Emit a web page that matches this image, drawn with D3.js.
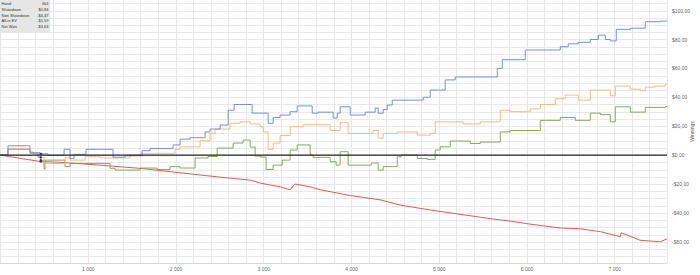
<!DOCTYPE html>
<html>
<head>
<meta charset="utf-8">
<script src="https://cdn.jsdelivr.net/npm/d3@7"></script>
<style>
  body { margin: 0; background: #fff; }
  text { font-family: "Liberation Sans", Arial, sans-serif; }
</style>
</head>
<body>
<div id="chart"></div>
<script>
// [hand, winnings] steps
const showdown = [
  [0, 0], [91, 6.4], [342, 2], [376, 1.5], [456, 0.84], [547, -0.2], [730, 4], [798, -2.3],
  [844, 0.5], [980, 4], [1288, -1.5], [1425, -0.5], [1619, 3], [1710, 4.6], [1972, 7],
  [2052, 11], [2166, 12], [2337, 16], [2394, 18], [2508, 20.8], [2600, 31], [2668, 35],
  [2873, 29], [3055, 22], [3112, 26], [3192, 27.7], [3306, 30], [3386, 34], [3557, 29],
  [3625, 29.7], [3796, 25.6], [3842, 29], [3876, 33.4], [3990, 27.7], [4161, 29.7],
  [4275, 32.5], [4309, 29], [4366, 31.5], [4412, 34.6], [4469, 38], [4822, 40], [4902, 45],
  [5073, 52], [5187, 54], [5666, 60], [5723, 66], [5985, 72.7], [6384, 75], [6475, 77],
  [6589, 78], [6726, 80], [6817, 83], [6897, 80], [6954, 79], [7022, 87], [7182, 87.8],
  [7353, 92.3], [7524, 92.7], [7600, 92.7]
];

const allinEV = [
  [0, 0], [91, 4.6], [342, 1.4], [456, -1.59], [502, -5.8], [741, -2], [798, -3.5],
  [969, -1.2], [1140, -2], [1482, 0], [1596, 1.2], [1995, 4], [2052, 5.7], [2280, 10],
  [2394, 15], [2451, 18], [2622, 22], [2736, 23], [2850, 21.5], [2964, 19.6], [3000, 16],
  [3055, 4], [3112, 8.3], [3192, 13.5], [3306, 19.6], [3454, 21], [3762, 17], [3876, 22.4],
  [3967, 15], [4252, 17], [4309, 11.6], [4366, 15], [4526, 16], [4754, 13.8], [4902, 15],
  [4959, 23], [5278, 21.5], [5472, 23], [5700, 31], [5814, 30], [6042, 32], [6156, 35],
  [6327, 39], [6441, 41.5], [6589, 38], [6726, 45], [6954, 41], [7011, 47.7], [7182, 45.5],
  [7296, 44.5], [7353, 47], [7467, 47.7], [7581, 49], [7600, 49]
];

const netWon = [
  [0, 0], [91, 4], [342, 1.2], [433, -1.5], [464, -3.63], [502, -9.7], [513, -3.5],
  [741, -8], [798, -5.8], [1254, -9.2], [1311, -10.4], [1596, -9], [1790, -10], [1938, -8],
  [2052, -9], [2223, -2], [2371, -1], [2474, 4.8], [2656, 8.3], [2770, 10.4], [2850, 5.5],
  [2907, -0.7], [2964, -1.4], [3032, -10], [3112, -7], [3215, -3.5], [3306, 3.5], [3386, 7],
  [3534, 0], [3568, -1.6], [3762, -4.6], [3830, -7], [3876, 2.3], [3967, -7], [4230, -5.5],
  [4309, -10.4], [4366, -8], [4526, -1.2], [4572, 0], [4754, -2.4], [4868, -3], [4959, 3.5],
  [5016, 5.7], [5130, 9.7], [5358, 8], [5472, 9], [5700, 16], [5814, 17], [6156, 24],
  [6384, 26], [6555, 24], [6726, 29], [6840, 28], [6954, 23], [7011, 33.4], [7182, 29.7],
  [7353, 33], [7581, 33.5], [7600, 33.5]
];

const nonShowdown = [
  [0, 0], [456, -4.47], [684, -5], [1140, -7], [1596, -9.2], [1938, -11.5], [2280, -13.8],
  [2622, -16], [2850, -17.3], [2964, -19.4], [3192, -22], [3306, -24], [3363, -20],
  [3534, -22], [3648, -24], [3990, -28], [4332, -31], [4560, -34.6], [4902, -38],
  [5244, -41], [5586, -44], [5814, -45.7], [6042, -47.8], [6384, -50.5], [6612, -51],
  [6840, -53], [7068, -56.5], [7080, -53.8], [7296, -59], [7524, -60], [7600, -58]
];

const xTicks = [1000, 2000, 3000, 4000, 5000, 6000, 7000];
const yTicks = [100, 80, 60, 40, 20, 0, -20, -40, -60];

const hoverHand = 464;
const infoRows = [
  ["Hand:", "464"],
  ["Showdown", "$0,84"],
  ["Non Showdown", "-$4,47"],
  ["All-in EV", "-$1,59"],
  ["Net Won", "-$3,63"]
];

const width = 700, height = 275;
const plotW = 667, plotH = 263;

const svg = d3.select("#chart").append("svg")
    .attr("width", width)
    .attr("height", height);

const x = d3.scaleLinear().domain([0, 7600]).range([0, plotW]);
const y = d3.scaleLinear().domain([-74.7, 107.3]).range([plotH, 0]);

// grid
const grid = svg.append("g").attr("class", "grid");
grid.selectAll(".vg")
    .data(d3.range(0, 7601, 200))
    .join("line")
    .attr("x1", d => Math.round(x(d)) + 0.5).attr("x2", d => Math.round(x(d)) + 0.5)
    .attr("y1", 0).attr("y2", plotH)
    .style("stroke", "#e8e8e8").style("stroke-width", 1);
grid.selectAll(".hg")
    .data(d3.range(-70, 106, 5))
    .join("line")
    .attr("x1", 0).attr("x2", plotW)
    .attr("y1", d => Math.round(y(d)) + 0.5).attr("y2", d => Math.round(y(d)) + 0.5)
    .style("stroke", "#e8e8e8").style("stroke-width", 1);
grid.append("line")
    .attr("x1", 0).attr("x2", plotW)
    .attr("y1", plotH + 0.5).attr("y2", plotH + 0.5)
    .style("stroke", "#d8d8d8");

// axes
let xAxis = d3.axisBottom(x)
    .tickValues(xTicks)
    .tickSize(0)
    .tickPadding(4)
    .tickFormat(d => d3.format(",")(d).replace(",", " "));
svg.append("g")
    .attr("class", "x-axis")
    .attr("transform", `translate(0, ${plotH})`)
    .call(xAxis)
    .call(g => g.select(".domain").remove())
    .selectAll("text")
    .style("font-size", "5px")
    .style("fill", "#666");

let money = d => (d < 0 ? "-$" : "$") + Math.abs(d).toFixed(2).replace(".", ",");
let yAxis = d3.axisRight(y)
    .tickValues(yTicks)
    .tickSize(0)
    .tickPadding(5)
    .tickFormat(money);
svg.append("g")
    .attr("class", "y-axis")
    .attr("transform", `translate(${plotW}, 0)`)
    .call(yAxis)
    .call(g => g.select(".domain").remove())
    .selectAll("text")
    .style("font-size", "5px")
    .style("fill", "#666");

svg.append("text")
    .attr("transform", `translate(694, ${plotH / 2}) rotate(-90)`)
    .attr("text-anchor", "middle")
    .style("font-size", "5px")
    .style("fill", "#555")
    .text("Winnings");

// series
const series = [
  { data: nonShowdown, color: "#da4a42", curve: d3.curveLinear },
  { data: netWon, color: "#78a24e", curve: d3.curveStepAfter },
  { data: allinEV, color: "#f4b27c", curve: d3.curveStepAfter },
  { data: showdown, color: "#6486d6", curve: d3.curveStepAfter }
];

series.forEach(function(s) {
    let lineGenerator = d3.line()
        .x(d => x(d[0]))
        .y(d => y(d[1]))
        .curve(s.curve);
    svg.append("path")
        .attr("d", lineGenerator(s.data))
        .style("fill", "none")
        .style("stroke", s.color)
        .style("stroke-width", "0.9px");
});

// zero line
svg.append("line")
    .attr("x1", 0).attr("x2", plotW)
    .attr("y1", y(0)).attr("y2", y(0))
    .style("stroke", "#222")
    .style("stroke-width", "1.2px");

// hover markers at hand 464
const hoverVals = [0.84, -4.47, -1.59, -3.63];
svg.selectAll(".marker")
    .data(hoverVals)
    .join("rect")
    .attr("x", x(hoverHand) - 1)
    .attr("y", d => y(d) - 1)
    .attr("width", 2).attr("height", 2)
    .style("fill", "#1d2a78");

// info box
const info = svg.append("g").attr("class", "info");
info.append("rect")
    .attr("x", 0).attr("y", 0)
    .attr("width", 50).attr("height", 33)
    .style("fill", "#e6e6e6");
info.selectAll(".lab")
    .data(infoRows)
    .join("text")
    .attr("x", 1.5)
    .attr("y", (d, i) => 5 + i * 5.8)
    .style("font-size", "4px")
    .style("fill", "#333")
    .text(d => d[0]);
info.selectAll(".val")
    .data(infoRows)
    .join("text")
    .attr("x", 48.5)
    .attr("y", (d, i) => 5 + i * 5.8)
    .attr("text-anchor", "end")
    .style("font-size", "4px")
    .style("fill", "#333")
    .text(d => d[1]);
</script>
</body>
</html>
